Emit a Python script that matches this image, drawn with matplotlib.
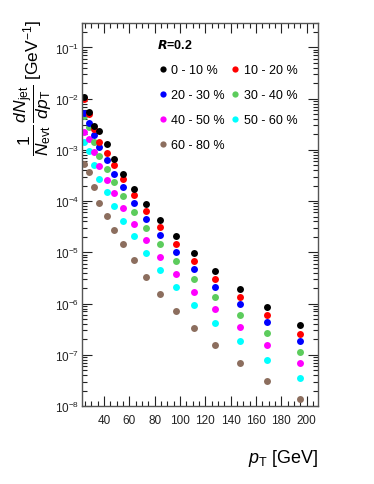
import matplotlib
matplotlib.use("Agg")
import matplotlib.pyplot as plt
from matplotlib.ticker import MultipleLocator, LogLocator, NullFormatter
from matplotlib.lines import Line2D

plt.rcParams['font.family'] = ['Liberation Sans', 'DejaVu Sans']
plt.rcParams['mathtext.fontset'] = 'custom'
plt.rcParams['mathtext.rm'] = 'Liberation Sans'
plt.rcParams['mathtext.it'] = 'Liberation Sans:italic'
plt.rcParams['mathtext.bf'] = 'Liberation Sans:bold'

pt = [24.2, 28.0, 32.3, 36.3, 42.1, 48.1, 55.2, 63.6, 73.1, 84.2, 96.6, 111.2, 127.8, 147.0, 169.0, 195.0]

c0_10 = [1.08e-2, 5.4e-3, 2.87e-3, 2.37e-3, 1.32e-3, 6.72e-4, 3.42e-4, 1.75e-4, 8.78e-5, 4.33e-5,
         2.05e-5, 9.53e-6, 4.32e-6, 1.95e-6, 8.57e-7, 3.81e-7]
c10_20 = [9.66e-3, 4.92e-3, 2.59e-3, 1.42e-3, 8.8e-4, 5.13e-4, 2.70e-4, 1.33e-4, 6.49e-5, 3.06e-5,
          1.43e-5, 6.65e-6, 2.96e-6, 1.34e-6, 5.97e-7, 2.58e-7]
c20_30 = [5.31e-3, 3.39e-3, 1.98e-3, 1.14e-3, 6.23e-4, 3.42e-4, 1.85e-4, 9.18e-5, 4.47e-5, 2.18e-5,
          1.03e-5, 4.72e-6, 2.13e-6, 9.62e-7, 4.28e-7, 1.88e-7]
c30_40 = [4.58e-3, 2.74e-3, 1.42e-3, 7.59e-4, 4.29e-4, 2.36e-4, 1.26e-4, 6.12e-5, 3.03e-5, 1.43e-5,
          6.65e-6, 3.01e-6, 1.34e-6, 5.97e-7, 2.61e-7, 1.13e-7]
c40_50 = [2.23e-3, 1.65e-3, 9.08e-4, 4.75e-4, 2.62e-4, 1.44e-4, 7.33e-5, 3.62e-5, 1.74e-5, 8.22e-6,
          3.78e-6, 1.70e-6, 7.83e-7, 3.49e-7, 1.52e-7, 6.79e-8]
c50_60 = [1.42e-3, 9.33e-4, 4.98e-4, 2.65e-4, 1.50e-4, 8.01e-5, 4.08e-5, 2.05e-5, 9.70e-6, 4.52e-6,
          2.07e-6, 9.37e-7, 4.17e-7, 1.82e-7, 8.02e-8, 3.52e-8]
c60_80 = [5.20e-4, 3.70e-4, 1.88e-4, 9.31e-5, 5.03e-5, 2.76e-5, 1.43e-5, 6.95e-6, 3.30e-6, 1.56e-6,
          7.24e-7, 3.33e-7, 1.52e-7, 6.92e-8, 3.08e-8, 1.37e-8]

labels = ['0 - 10 %', '10 - 20 %', '20 - 30 %', '30 - 40 %', '40 - 50 %', '50 - 60 %', '60 - 80 %']
series = [c0_10, c10_20, c20_30, c30_40, c40_50, c50_60, c60_80]
colors = ['#000000', '#ff0000', '#0000ff', '#5ccc5c', '#ff00ff', '#00ffff', '#8c6e5e']

fig = plt.figure(figsize=(3.74, 4.85), dpi=100)
ax = fig.add_axes([82/374, 78/485, 236/374, 383/485])

# draw in reverse so black ends on top
for ys, c in list(zip(series, colors))[::-1]:
    ax.plot(pt, ys, 'o', color=c, ms=5.0, mew=0, linestyle='none')

ax.set_yscale('log')
ax.set_xlim(22.6, 209)
ax.set_ylim(1e-8, 0.3)

ax.xaxis.set_major_locator(MultipleLocator(20))
ax.xaxis.set_minor_locator(MultipleLocator(5))
ax.yaxis.set_major_locator(LogLocator(base=10, numticks=20))
ax.yaxis.set_minor_locator(LogLocator(base=10, subs=range(2, 10), numticks=100))
ax.yaxis.set_minor_formatter(NullFormatter())

ax.tick_params(which='both', direction='in', top=True, right=True, labelsize=8.5, colors='#222222')
ax.tick_params(which='major', length=7, width=0.8)
ax.tick_params(which='minor', length=3.5, width=0.8)
ax.tick_params(axis='x', pad=6)
ax.tick_params(axis='y', pad=2)
for s in ax.spines.values():
    s.set_linewidth(1.0)
    s.set_color('#555555')

ax.set_ylabel(r'$\dfrac{\mathit{1}}{N_{\mathrm{evt}}}\,\dfrac{\mathit{dN}_{\mathrm{jet}}}{\mathit{dp}_{\mathrm{T}}}$ [GeV$^{\mathrm{-1}}$]',
              fontsize=12.5, loc='top')
ax.yaxis.set_label_coords(-0.118, 1.01)
ax.set_xlabel(r'$p_{\mathrm{T}}$ [GeV]', fontsize=13, loc='right', labelpad=15)

ax.text(0.319, 0.943, r'$\mathbfit{R}$=0.2', transform=ax.transAxes, fontsize=9,
        fontweight='bold', ha='left', va='center')

handles = [Line2D([], [], marker='o', ls='none', color=c, ms=4.5, mew=0) for c in colors]
order = [0, 2, 4, 6, 1, 3, 5]
leg = ax.legend([handles[i] for i in order], [labels[i] for i in order], ncol=2,
                frameon=False, fontsize=9, loc='upper left', bbox_to_anchor=(0.31, 0.893),
                handletextpad=0.1, handlelength=1.2, columnspacing=0.2, labelspacing=1.05,
                borderaxespad=0, borderpad=0)

fig.savefig('out.png', dpi=100)
